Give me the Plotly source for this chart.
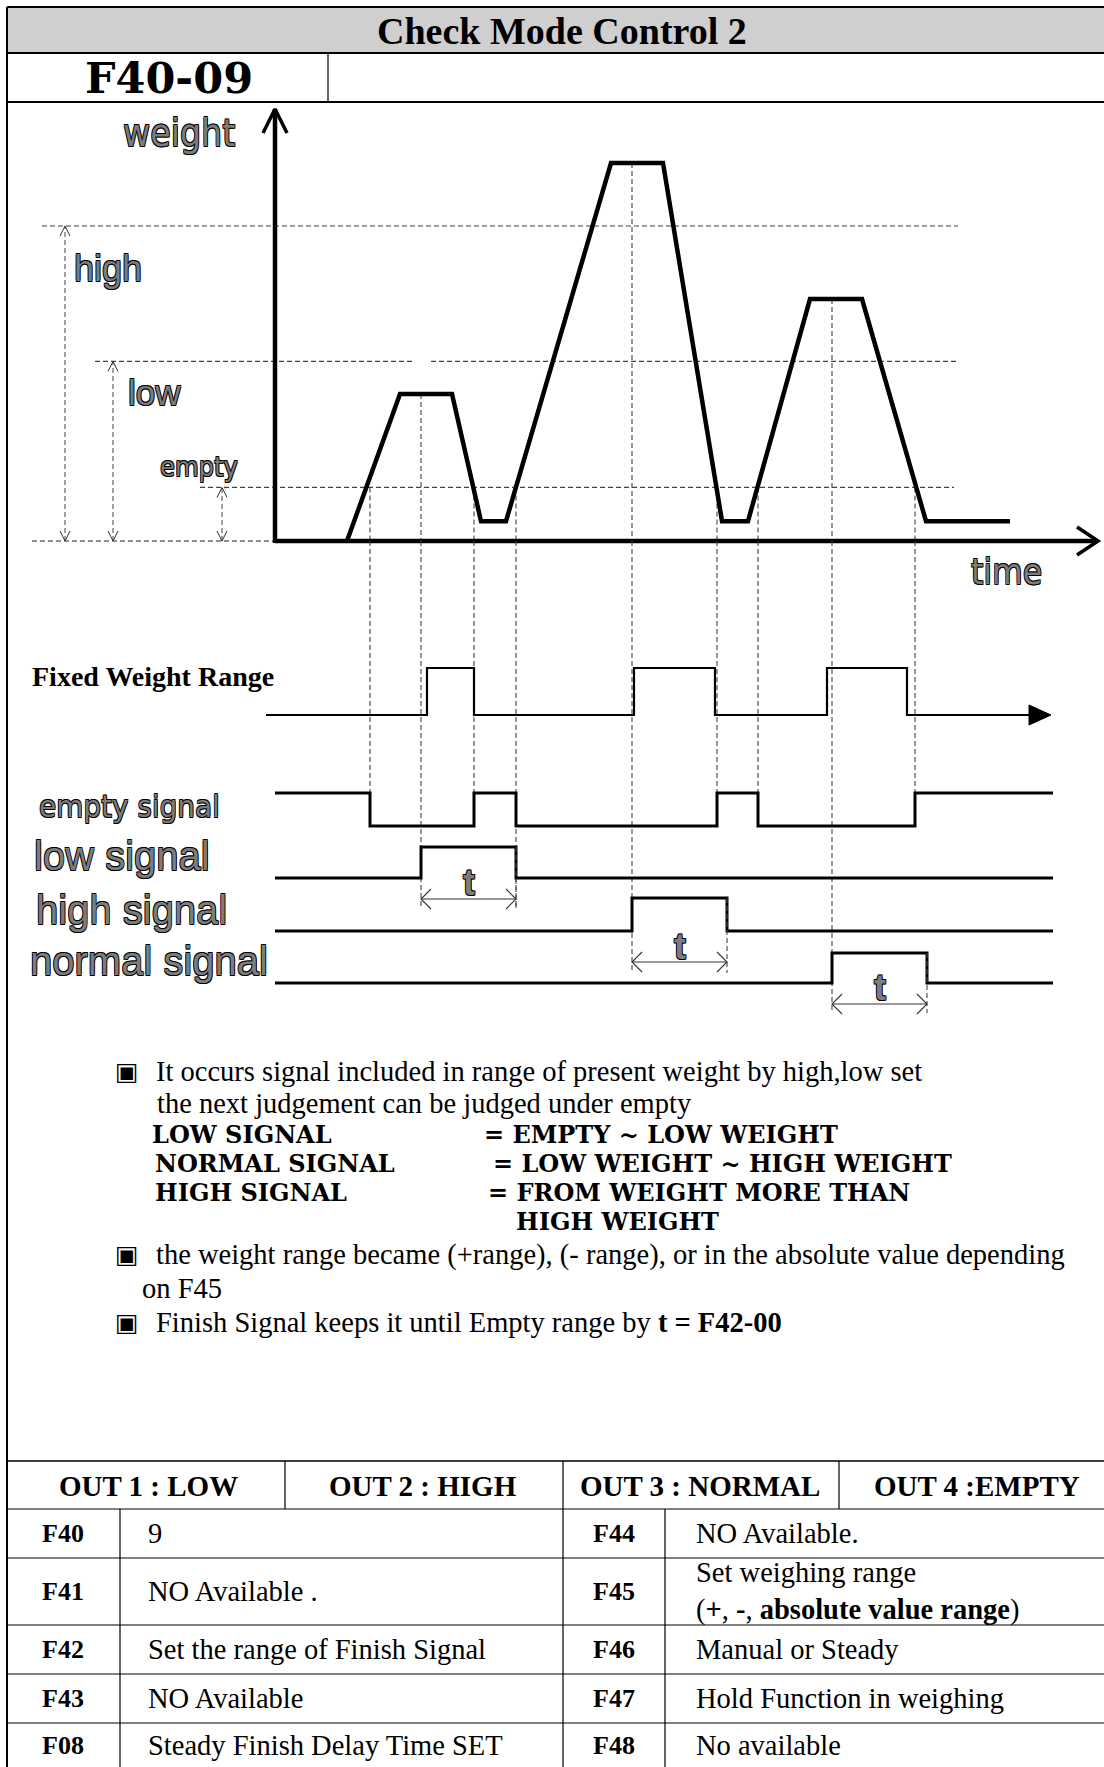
import plotly.graph_objects as go

# ---------------- data ----------------
# weight profile over time (time units, weight units; high set point = 100)
curve_time = [7.2, 12.5, 17.7, 20.6, 23.1, 33.6, 38.8, 44.7, 47.3, 53.5, 58.7, 65.1, 73.5]
curve_weight = [0, 46.7, 46.7, 6.3, 6.3, 120, 120, 6.3, 6.3, 76.8, 76.8, 6.3, 6.3]
level_names = ["high", "low", "empty"]
level_values = [100, 57, 17]

# events (time units)
empty_cross_times = [9.5, 19.9, 24.1, 44.2, 48.3, 64.0]     # weight crosses "empty"
peak_mid_times = [14.6, 35.7, 55.7]                          # middle of each plateau
peak_weights = [46.7, 120, 76.8]
fixed_edges = [15.2, 19.9, 35.9, 44.0, 55.2, 63.2]           # Fixed Weight Range rise/fall
hold_t = 9.5                                                 # t = F42-00
signal_end = 77.8

signal_names = ["empty signal", "low signal", "high signal", "normal signal"]

bullet_lines = [
    "It occurs signal included in range of present weight by high,low set",
    "the next judgement can be judged under empty",
]
rule_left = ["LOW SIGNAL", "NORMAL SIGNAL", "HIGH SIGNAL", ""]
rule_right = ["= EMPTY ~ LOW WEIGHT", "= LOW WEIGHT ~ HIGH WEIGHT", "= FROM WEIGHT MORE THAN", "HIGH WEIGHT"]
bullet2 = ["the weight range became (+range), (- range), or in the absolute value depending", "on F45"]
bullet3 = "Finish Signal keeps it until Empty range by <b>t = F42-00</b>"

out_headers = ["OUT 1 : LOW", "OUT 2 : HIGH", "OUT 3 : NORMAL", "OUT 4 :EMPTY"]
codes_left = ["F40", "F41", "F42", "F43", "F08"]
desc_left = ["9", "NO Available .", "Set the range of Finish Signal", "NO Available", "Steady Finish Delay Time SET"]
codes_right = ["F44", "F45", "F46", "F47", "F48"]
desc_right = ["NO Available.", "Set weighing range<br>(<b>+</b>, <b>-</b>, <b>absolute value range</b>)",
              "Manual or Steady", "Hold Function in weighing", "No available"]

# ---------------- layout constants ----------------
W, H = 1104, 1767
PX_T = 10.0          # px per time unit
PX_W = 3.15          # px per weight unit
T0_PX = 275          # x pixel of time 0
W0_PX = 541          # y pixel of weight 0
x_range = [-T0_PX / PX_T, (W - T0_PX) / PX_T]
y_range = [-(H - W0_PX) / PX_W, W0_PX / PX_W]

SERIF = "Liberation Serif, Times New Roman, serif"
WSERIF = "DejaVu Serif, serif"
SANS = "Liberation Sans, Arial, sans-serif"
NARROW = "Liberation Sans Narrow, DejaVu Sans Condensed, Arial Narrow, sans-serif"
OUTLINE = "-0.7px -0.7px 0 #000, 0.7px -0.7px 0 #000, -0.7px 0.7px 0 #000, 0.7px 0.7px 0 #000"
GRAYTXT = "#7c7c7c"
DASH = "5px,3px"
DASHC = "#444"

fig = go.Figure()


def line(x, y, width=2, color="black", dash=None, axis="y", shape="linear", fill=None):
    fig.add_trace(go.Scatter(x=x, y=y, mode="lines", yaxis=axis, hoverinfo="skip",
                             line=dict(width=width, color=color, dash=dash, shape=shape),
                             fill=fill, fillcolor=color if fill else None))


def tw(px):  # pixel length -> time units
    return px / PX_T


def ww(px):  # pixel length -> weight units
    return px / PX_W


# ---------- weight chart ----------
lvl = dict(zip(level_names, level_values))
line([-23.3, 68.3], [lvl["high"]] * 2, 1.2, DASHC, DASH)
line([-18.0, 13.7], [lvl["low"]] * 2, 1.2, DASHC, DASH)
line([15.6, 68.3], [lvl["low"]] * 2, 1.2, DASHC, DASH)
line([-7.5, 67.9], [lvl["empty"]] * 2, 1.2, DASHC, DASH)
line([-24.3, 0], [0, 0], 1.2, "#222", DASH)

# dimension arrows for high / low / empty
for name, xt in zip(level_names, [-21.0, -16.2, -5.3]):
    top = lvl[name]
    line([xt, xt], [0, top], 1.0, DASHC, DASH)
    line([xt - tw(5), xt, xt + tw(5)], [top - ww(10), top, top - ww(10)], 1.0, "#333")
    line([xt - tw(5), xt, xt + tw(5)], [ww(10), 0, ww(10)], 1.0, "#333")

# vertical connectors: upper part (weight axis)
for t in empty_cross_times:
    line([t, t], [lvl["empty"], 0], 1.1, DASHC, DASH)
for t, pw in zip(peak_mid_times, peak_weights):
    line([t, t], [pw, 0], 1.1, DASHC, DASH)

# axes
y_top = ww(W0_PX - 109)
x_end = tw(1098 - T0_PX)
line([0, 0], [-ww(2), y_top], 4.5)
line([-tw(12), 0, tw(12)], [y_top - ww(24), y_top, y_top - ww(24)], 3.5)
line([0, x_end], [0, 0], 4.5)
line([x_end - tw(21), x_end, x_end - tw(21)], [ww(14), 0, -ww(14)], 3.5)

# weight curve
line(curve_time, curve_weight, 4.5)

# ---------- timing diagram (y2 in pixels) ----------
AX_PX = W0_PX
lanes = {  # base pixel, amplitude pixel
    "fixed": (715, 47),
    "empty signal": (826, 33),
    "low signal": (878, 31),
    "high signal": (931, 33),
    "normal signal": (983, 30),
}


def lane_y(name, levels):
    b, a = lanes[name]
    return [b - lv * a for lv in levels]


conn_bottom_empty = lanes["empty signal"][0] - lanes["empty signal"][1]
for t in empty_cross_times:
    bottom = 908 if t == empty_cross_times[2] else conn_bottom_empty
    line([t, t], [AX_PX, bottom], 1.1, DASHC, DASH, axis="y2")
t_ends = [908, 973, 1013]
for t, be in zip(peak_mid_times, t_ends):
    line([t, t], [AX_PX, be], 1.1, DASHC, DASH, axis="y2")

# Fixed Weight Range
fx = [-0.9] + fixed_edges + [75.5]
fl = [0, 1, 0, 1, 0, 1, 0, 0]
line(fx, lane_y("fixed", fl), 2.2, shape="hv", axis="y2")
fb = lanes["fixed"][0]
line([75.4, 77.6, 75.4, 75.4], [fb - 10, fb, fb + 10, fb - 10], 1, "black", axis="y2", fill="toself")

# empty signal
ex = [0] + empty_cross_times + [signal_end]
el = [1, 0, 1, 0, 1, 0, 1, 1]
line(ex, lane_y("empty signal", el), 3, shape="hv", axis="y2")

# low / high / normal signals with hold t
t_arrow_y = [899, 962, 1004]
t_label_y = [882, 946, 987]
for name, start, ay, ly, be in zip(signal_names[1:], peak_mid_times, t_arrow_y, t_label_y, t_ends):
    end = start + hold_t
    line([0, start, end, signal_end], lane_y(name, [0, 1, 0, 0]), 3, shape="hv", axis="y2")
    hi = lanes[name][0] - lanes[name][1]
    line([end, end], [hi, be], 1.1, DASHC, DASH, axis="y2")
    line([start, end], [ay, ay], 1.2, "#333", axis="y2")
    line([start + tw(10), start, start + tw(10)], [ay - 10, ay, ay + 10], 1.1, "#333", axis="y2")
    line([end - tw(10), end, end - tw(10)], [ay - 10, ay, ay + 10], 1.1, "#333", axis="y2")
    fig.add_annotation(x=(start + end) / 2, y=ly, yref="y2", xref="x", text="t", showarrow=False,
                       font=dict(family=SANS, size=36, color=GRAYTXT, weight="bold", shadow=OUTLINE),
                       xanchor="center", yanchor="middle")


# ---------- text ----------
def txt(x, y, s, size, family=SERIF, bold=False, color="black", anchor="left", shadow=None):
    f = dict(family=family, size=size, color=color)
    if bold:
        f["weight"] = "bold"
    if shadow:
        f["shadow"] = shadow
    fig.add_annotation(x=x / W, y=1 - y / H, xref="paper", yref="paper", text=s, showarrow=False,
                       xanchor=anchor, yanchor="middle", align="left", font=f)


txt(562, 31, "Check Mode Control 2", 38, SERIF, True, anchor="center")
txt(169, 78, "F40-09", 43, WSERIF, True, anchor="center")

txt(179, 133, "weight", 37, NARROW, color=GRAYTXT, anchor="center", shadow=OUTLINE)
txt(108, 268, "high", 36, SANS, color=GRAYTXT, anchor="center", shadow=OUTLINE)
txt(154, 392, "low", 35, SANS, color=GRAYTXT, anchor="center", shadow=OUTLINE)
txt(199, 467, "empty", 27, NARROW, color=GRAYTXT, anchor="center", shadow=OUTLINE)
txt(1006, 572, "time", 35, NARROW, color=GRAYTXT, anchor="center", shadow=OUTLINE)

txt(30, 677, "Fixed Weight Range", 28, SERIF, True)
sig_y = [806, 856, 910, 961]
sig_x = [37, 32, 34, 28]
sig_font = [(NARROW, 31), (SANS, 40), (SANS, 40), (SANS, 40)]
for s, x, y, (fam, sz) in zip(signal_names, sig_x, sig_y, sig_font):
    txt(x, y, s, sz, fam, color=GRAYTXT, shadow=OUTLINE)

# bullets and paragraph
BUL = "▣"
for y in [1071, 1254, 1322]:
    txt(127, y, BUL, 25, "DejaVu Sans", anchor="center")
PS = 28.5
txt(154, 1071, bullet_lines[0], PS)
txt(155, 1103, bullet_lines[1], PS)
rule_y = [1134, 1163, 1192, 1221]
rule_rx = [482, 491, 486, 514]
rule_lx = [150, 153, 153, 153]
CAPS = 24
for l, r, y, rx, lx in zip(rule_left, rule_right, rule_y, rule_rx, rule_lx):
    if l:
        txt(lx, y, l, CAPS, WSERIF, True)
    txt(rx, y, r, CAPS, WSERIF, True)
txt(154, 1255, bullet2[0], PS)
txt(140, 1288, bullet2[1], PS)
txt(154, 1322, bullet3, PS)

# ---------- frame & table ----------
shapes = []


def hl(y, x0=7, x1=W, w=1.5):
    shapes.append(dict(type="line", xref="paper", yref="paper", x0=x0 / W, x1=x1 / W,
                       y0=1 - y / H, y1=1 - y / H, line=dict(color="black", width=w)))


def vl(x, y0, y1, w=1.5):
    shapes.append(dict(type="line", xref="paper", yref="paper", x0=x / W, x1=x / W,
                       y0=1 - y0 / H, y1=1 - y1 / H, line=dict(color="black", width=w)))


shapes.append(dict(type="rect", xref="paper", yref="paper", x0=7 / W, x1=1, y0=1 - 53 / H, y1=1 - 7 / H,
                   fillcolor="#cfcfcf", line=dict(width=0), layer="below"))
hl(7, w=2)
hl(53, w=2)
hl(102, w=2)
vl(7, 7, H, 2)
vl(328, 53, 102, 1.2)

TBL_TOP, HDR_BOT = 1461, 1509
row_lines = [1558, 1625, 1674, 1723]
hl(TBL_TOP, w=1.5)
hl(HDR_BOT, w=1.2)
for y in row_lines:
    hl(y, w=1.2)
for x in [285, 563, 839]:
    vl(x, TBL_TOP, HDR_BOT, 1.2)
for x in [120, 563, 665]:
    vl(x, HDR_BOT, H, 1.2)

hdr_cx = [148, 423, 700, 977]
for s, x in zip(out_headers, hdr_cx):
    txt(x, 1486, s, 29, SERIF, True, anchor="center")
row_bounds = [HDR_BOT] + row_lines + [H]
for i in range(5):
    cy = (row_bounds[i] + row_bounds[i + 1]) / 2
    txt(63, cy, codes_left[i], 26, SERIF, True, anchor="center")
    txt(146, cy, desc_left[i], 28.5)
    txt(614, cy, codes_right[i], 26, SERIF, True, anchor="center")
    txt(694, cy, desc_right[i], 28.5)

fig.update_layout(
    width=W, height=H, margin=dict(l=0, r=0, t=0, b=0), autosize=False,
    paper_bgcolor="white", plot_bgcolor="white", showlegend=False, shapes=shapes,
    xaxis=dict(range=x_range, domain=[0, 1], visible=False, fixedrange=True),
    yaxis=dict(range=y_range, domain=[0, 1], visible=False, fixedrange=True),
    yaxis2=dict(range=[H, 0], domain=[0, 1], overlaying="y", visible=False, fixedrange=True),
)

fig.write_html("out.html", config=dict(displayModeBar=False),
               post_script="document.body.style.margin='0px';document.body.style.overflow='hidden';")
